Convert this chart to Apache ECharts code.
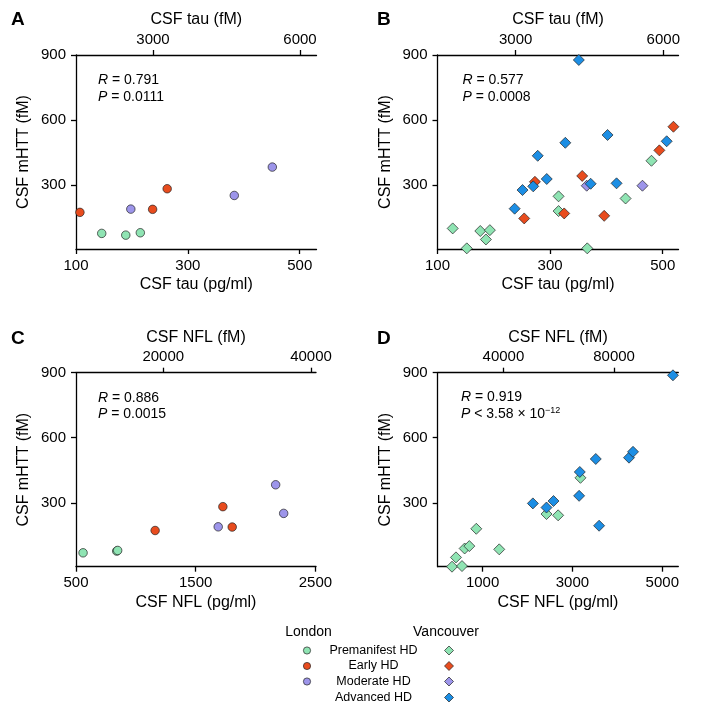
<!DOCTYPE html>
<html><head><meta charset="utf-8">
<script src="https://cdn.jsdelivr.net/npm/echarts@6/dist/echarts.min.js"></script>
<style>html,body{margin:0;padding:0;background:#fff}#c{width:702px;height:723px}</style>
</head><body><div id="c"></div>
<script>
// ---------- data ----------
const groups = ['Premanifest HD', 'Early HD', 'Moderate HD', 'Advanced HD'];
const groupColors = ['#8fe4b3', '#e84c1e', '#9d95ea', '#1c8ee4'];

// Panel A: London, CSF tau (pg/ml) vs CSF mHTT (fM)
const tauLondonPre = [[146, 77], [189, 69], [215, 80]];
const tauLondonEarly = [[107, 174], [237, 188], [263, 283]];
const tauLondonMod = [[198, 189], [383, 252], [451, 383]];

// Panel B: Vancouver, CSF tau (pg/ml) vs CSF mHTT (fM)
const tauVanPre = [[127, 100], [152, 8], [176, 88], [186, 49], [193, 92], [315, 248], [315, 180], [366, 8], [434, 238], [480, 412]];
const tauVanEarly = [[254, 146], [273, 315], [325, 169], [357, 342], [396, 158], [494, 460], [519, 569]];
const tauVanMod = [[365, 297], [464, 297]];
const tauVanAdv = [[237, 191], [251, 277], [270, 294], [278, 435], [294, 328], [327, 495], [351, 877], [372, 306], [402, 531], [418, 308], [507, 502]];

// Panel C: London, CSF NFL (pg/ml) vs CSF mHTT (fM)
const nflLondonPre = [[559, 69], [840, 77], [848, 80]];
const nflLondonEarly = [[1161, 172], [1727, 282], [1805, 188]];
const nflLondonMod = [[1688, 189], [2168, 383], [2235, 251]];

// Panel D: Vancouver, CSF NFL (pg/ml) vs CSF mHTT (fM)
const nflVanPre = [[319, 5], [407, 48], [541, 8], [600, 89], [704, 100], [859, 180], [1370, 85], [2422, 248], [2681, 242], [3178, 415]];
const nflVanAdv = [[2119, 297], [2422, 278], [2578, 308], [3148, 332], [3163, 442], [3519, 502], [3593, 194], [4259, 508], [4348, 535], [5237, 888]];

// tick labels
const mhttTicks = [300, 600, 900];
const tauTicks = [100, 300, 500];
const tauFmTicks = [3000, 6000];
const nflTicksC = [500, 1500, 2500];
const nflFmTicksC = [20000, 40000];
const nflTicksD = [1000, 3000, 5000];
const nflFmTicksD = [40000, 80000];

const stats = [
  ['0.791', '= 0.0111'],
  ['0.577', '= 0.0008'],
  ['0.886', '= 0.0015'],
  ['0.919', '< 3.58 × 10']
];

// ---------- layout ----------
const FONT = '"Liberation Sans", Arial, Helvetica, sans-serif';
const grids = [
  {left: 76, top: 55, width: 240.5, height: 194},
  {left: 437.5, top: 55, width: 241, height: 194},
  {left: 76, top: 372.7, width: 240, height: 194},
  {left: 437.7, top: 372.7, width: 240.6, height: 194}
];
const bottomAxes = [
  {min: 100, max: 530, ticks: tauTicks, name: 'CSF tau (pg/ml)'},
  {min: 100, max: 528, ticks: tauTicks, name: 'CSF tau (pg/ml)'},
  {min: 500, max: 2505, ticks: nflTicksC, name: 'CSF NFL (pg/ml)'},
  {min: 0, max: 5356, ticks: nflTicksD, name: 'CSF NFL (pg/ml)'}
];
const topAxes = [
  {min: 1429, max: 6337, ticks: tauFmTicks, name: 'CSF tau (fM)'},
  {min: 1411, max: 6309, ticks: tauFmTicks, name: 'CSF tau (fM)'},
  {min: 8180, max: 40677, ticks: nflFmTicksC, name: 'CSF NFL (fM)'},
  {min: 16225, max: 103234, ticks: nflFmTicksD, name: 'CSF NFL (fM)'}
];

const lineStyle = {color: '#000', width: 1.3};
const labelStyle = {fontSize: 15, color: '#000', fontFamily: FONT, formatter: v => String(v)};
const nameStyle = {fontSize: 16, color: '#000', fontFamily: FONT};

const xAxis = [], yAxis = [];
grids.forEach((g, i) => {
  const b = bottomAxes[i], t = topAxes[i];
  xAxis.push({
    type: 'value', gridIndex: i, position: 'bottom', min: b.min, max: b.max,
    axisLine: {show: true, onZero: false, lineStyle},
    axisTick: {show: true, length: 5, lineStyle, customValues: b.ticks},
    axisLabel: Object.assign({margin: 9, customValues: b.ticks}, labelStyle),
    splitLine: {show: false},
    name: b.name, nameLocation: 'middle', nameGap: 28, nameTextStyle: nameStyle
  });
  xAxis.push({
    type: 'value', gridIndex: i, position: 'top', min: t.min, max: t.max,
    axisLine: {show: true, onZero: false, lineStyle},
    axisTick: {show: true, length: 5, lineStyle, customValues: t.ticks},
    axisLabel: Object.assign({margin: 8, customValues: t.ticks}, labelStyle),
    splitLine: {show: false},
    name: t.name, nameLocation: 'middle', nameGap: 27, nameTextStyle: nameStyle
  });
  yAxis.push({
    type: 'value', gridIndex: i, position: 'left', min: 5, max: 900,
    axisLine: {show: true, onZero: false, lineStyle},
    axisTick: {show: true, length: 5, lineStyle, customValues: mhttTicks},
    axisLabel: Object.assign({margin: 10, customValues: mhttTicks}, labelStyle),
    splitLine: {show: false},
    name: 'CSF mHTT (fM)', nameLocation: 'middle', nameRotate: 90, nameGap: 44, nameTextStyle: nameStyle
  });
});

function ser(panel, data, gi, diamond) {
  return {
    type: 'scatter', xAxisIndex: panel * 2, yAxisIndex: panel, data,
    name: groups[gi] + (diamond ? ' (Vancouver)' : ' (London)'),
    symbol: diamond ? 'diamond' : 'circle', symbolSize: diamond ? 11 : 8.5,
    clip: false, silent: true,
    itemStyle: {color: groupColors[gi], borderColor: '#222', borderWidth: 0.7, opacity: 1}
  };
}
const series = [
  ser(0, tauLondonPre, 0, false), ser(0, tauLondonEarly, 1, false), ser(0, tauLondonMod, 2, false),
  ser(1, tauVanPre, 0, true), ser(1, tauVanEarly, 1, true), ser(1, tauVanMod, 2, true), ser(1, tauVanAdv, 3, true),
  ser(2, nflLondonPre, 0, false), ser(2, nflLondonEarly, 1, false), ser(2, nflLondonMod, 2, false),
  ser(3, nflVanPre, 0, true), ser(3, nflVanAdv, 3, true)
];

// ---------- graphic: panel letters, stats, legend ----------
function txt(x, y, text, opts) {
  return {
    type: 'text', x, y, silent: true,
    style: Object.assign({
      text, fill: '#000', font: '14px ' + FONT,
      align: 'left', verticalAlign: 'middle', textAlign: 'left', textVerticalAlign: 'middle'
    }, opts || {})
  };
}
const graphic = [];
const letters = ['A', 'B', 'C', 'D'];
const letterPos = [[11, 19.5], [377, 19.5], [11, 338.5], [377, 338.5]];
letters.forEach((L, i) => graphic.push(txt(letterPos[i][0], letterPos[i][1], L, {font: 'bold 19px ' + FONT})));

const statPos = [[98, 80, 97], [462.5, 80, 97], [98, 398, 414.5], [461, 397, 414.5]];
const rich = {
  i: {fontStyle: 'italic', fontSize: 14, fontFamily: FONT, fill: '#000', color: '#000'},
  n: {fontSize: 14, fontFamily: FONT, fill: '#000', color: '#000'},
  s: {fontSize: 9, fontFamily: FONT, fill: '#000', color: '#000', verticalAlign: 'top'}
};
stats.forEach((s, i) => {
  const p = statPos[i];
  graphic.push(txt(p[0], p[1], '{i|R}{n| = ' + s[0] + '}', {rich}));
  let ptxt = '{i|P}{n| ' + s[1] + '}';
  if (i === 3) ptxt += '{s|−12}';
  graphic.push(txt(p[0], p[2], ptxt, {rich, lineHeight: 16}));
});

// legend
graphic.push(txt(308.5, 632, 'London', {align: 'center', textAlign: 'center'}));
graphic.push(txt(446, 632, 'Vancouver', {align: 'center', textAlign: 'center'}));
const legRows = [650.5, 666, 681.5, 697.5];
groups.forEach((g, i) => {
  const y = legRows[i];
  graphic.push(txt(373.5, y, g, {align: 'center', textAlign: 'center', font: '12.5px ' + FONT}));
  if (i < 3) {
    graphic.push({type: 'circle', silent: true, shape: {cx: 307, cy: y, r: 3.6},
      style: {fill: groupColors[i], stroke: '#222', lineWidth: 0.7}});
  }
  graphic.push({type: 'polygon', silent: true,
    shape: {points: [[449, y - 4.5], [453.5, y], [449, y + 4.5], [444.5, y]]},
    style: {fill: groupColors[i], stroke: '#222', lineWidth: 0.7}});
});

const chart = echarts.init(document.getElementById('c'), null, {renderer: 'canvas'});
chart.setOption({
  animation: false,
  backgroundColor: '#fff',
  textStyle: {fontFamily: FONT},
  grid: grids.map(g => Object.assign({containLabel: false, outerBoundsMode: 'none'}, g)),
  xAxis, yAxis, series, graphic
});
</script>
</body></html>
